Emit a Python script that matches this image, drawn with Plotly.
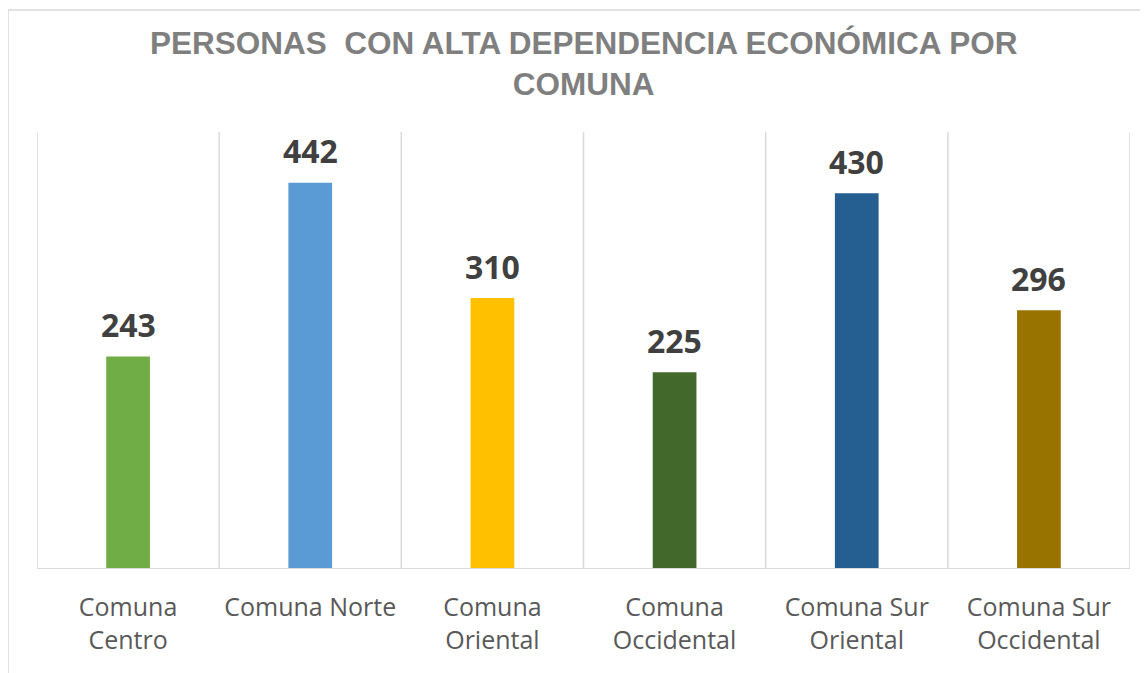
import plotly.graph_objects as go

categories = ["Comuna<br>Centro", "Comuna Norte", "Comuna<br>Oriental",
              "Comuna<br>Occidental", "Comuna Sur<br>Oriental", "Comuna Sur<br>Occidental"]
values = [243, 442, 310, 225, 430, 296]
colors = ["#70AD47", "#5B9BD5", "#FFC000", "#43682B", "#255E91", "#997300"]
title_text = "PERSONAS \u00a0CON ALTA DEPENDENCIA ECONÓMICA POR<br>COMUNA"

xpos = list(range(len(categories)))

fig = go.Figure(go.Bar(
    x=xpos, y=values,
    marker=dict(color=colors, line=dict(width=0)),
))

annotations = [
    dict(x=x, y=v, xref="x", yref="y", text=str(v), showarrow=False,
         yanchor="middle", yshift=32,
         font=dict(family="Open Sans", size=32, color="#404040", weight="bold"))
    for x, v in zip(xpos, values)
]

shapes = []
for i in range(len(categories) + 1):
    shapes.append(dict(type="line", xref="x", yref="y", x0=i - 0.5, x1=i - 0.5,
                       y0=0, y1=500, line=dict(color="#d9d9d9", width=1.5), layer="below"))
shapes.append(dict(type="line", xref="x", yref="y", x0=-0.5, x1=len(categories) - 0.5,
                   y0=0, y1=0, line=dict(color="#d9d9d9", width=2), layer="above"))
# chart border
shapes.append(dict(type="rect", xref="paper", yref="paper", x0=-0.0265, x1=1.2,
                   y0=-0.5, y1=1.279, line=dict(color="#d9d9d9", width=1.5),
                   fillcolor="rgba(0,0,0,0)", layer="below"))

fig.update_layout(
    width=1140, height=665,
    margin=dict(l=29, r=18, t=124, b=104),
    paper_bgcolor="white", plot_bgcolor="white",
    showlegend=False, bargap=0.76,
    title=dict(text=title_text, x=0.505, xanchor="center", y=0.931, yanchor="middle",
               font=dict(family="Liberation Sans", size=31.5, color="#7F7F7F", weight="bold")),
    xaxis=dict(tickmode="array", tickvals=xpos, ticktext=categories,
               range=[-0.5, len(categories) - 0.5], showgrid=False, zeroline=False,
               ticks="outside", ticklen=16, tickcolor="rgba(0,0,0,0)", showline=False,
               tickfont=dict(family="Open Sans", size=25, color="#595959")),
    yaxis=dict(range=[0, 500], showgrid=False, zeroline=False, showticklabels=False,
               showline=False),
    shapes=shapes,
    annotations=annotations,
)

fig.write_html("out.html")
